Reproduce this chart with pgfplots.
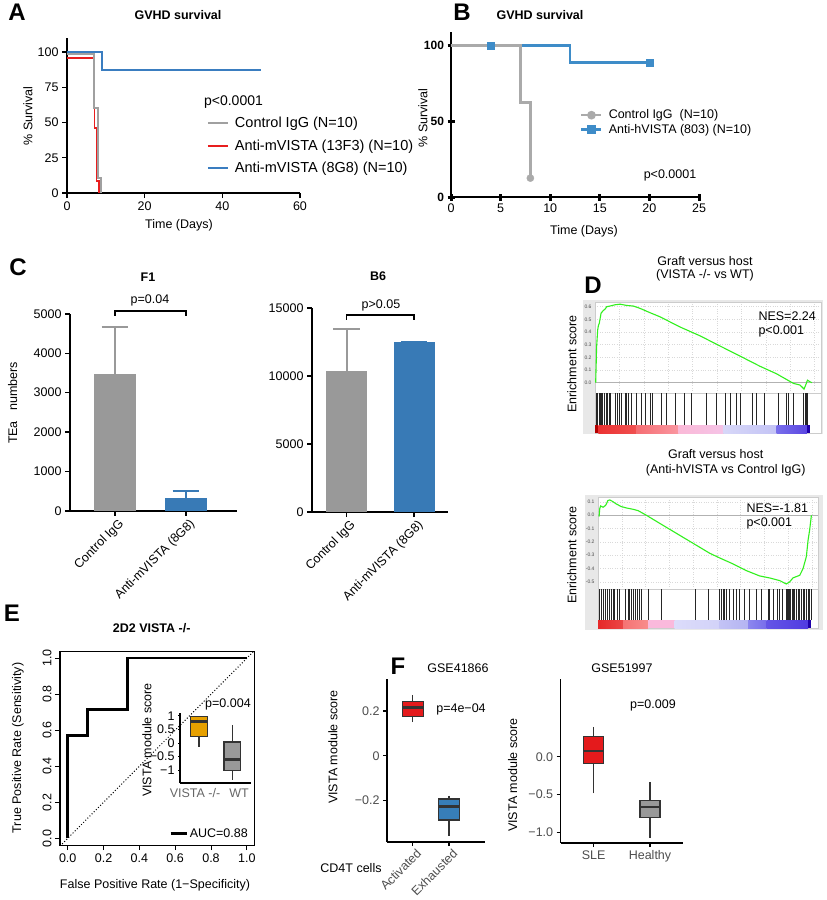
\documentclass[border=0pt]{standalone}
\usepackage{pgfplots}
\pgfplotsset{compat=1.18}
\usepgfplotslibrary{statistics}
\usepackage{fontspec}
\setmainfont{Liberation Sans}
\definecolor{agray}{RGB}{160,160,160}
\definecolor{ared}{RGB}{232,30,30}
\definecolor{ablue}{RGB}{58,125,192}
\definecolor{bgray}{RGB}{170,170,170}
\definecolor{bblue}{RGB}{62,140,200}
\definecolor{cgray}{RGB}{153,153,153}
\definecolor{cblue}{RGB}{56,122,182}
\definecolor{gsgreen}{RGB}{50,240,30}
\definecolor{eorange}{RGB}{230,160,0}
\definecolor{fred}{RGB}{228,26,28}
\definecolor{fblue}{RGB}{55,126,184}
\definecolor{fgray}{RGB}{153,153,153}
\definecolor{ggtext}{RGB}{77,77,77}
\definecolor{boxline}{RGB}{51,51,51}
\definecolor{gsframe}{RGB}{232,232,232}
% colour bars
\definecolor{ta1}{RGB}{180,0,0}
\definecolor{ta2}{RGB}{235,50,50}\definecolor{tb2}{RGB}{240,80,80}
\definecolor{ta3}{RGB}{245,110,115}\definecolor{tb3}{RGB}{250,150,160}
\definecolor{ta4}{RGB}{250,185,215}\definecolor{tb4}{RGB}{245,195,230}
\definecolor{ta5}{RGB}{215,215,248}\definecolor{tb5}{RGB}{195,195,245}
\definecolor{ta6}{RGB}{120,110,235}\definecolor{tb6}{RGB}{90,70,225}
\definecolor{ta7}{RGB}{30,0,170}
\definecolor{ba1}{RGB}{230,40,40}\definecolor{bb1}{RGB}{235,70,70}
\definecolor{ba2}{RGB}{245,115,115}\definecolor{bb2}{RGB}{248,140,140}
\definecolor{ba3}{RGB}{250,185,220}
\definecolor{ba4}{RGB}{220,220,250}\definecolor{bb4}{RGB}{210,210,248}
\definecolor{ba5}{RGB}{195,195,245}\definecolor{bb5}{RGB}{180,180,242}
\definecolor{ba6}{RGB}{140,135,238}\definecolor{bb6}{RGB}{120,110,235}
\definecolor{ba7}{RGB}{100,85,230}\definecolor{bb7}{RGB}{80,60,225}
\definecolor{ba8}{RGB}{30,0,170}
\newcommand{\fs}[1]{\fontsize{#1}{#1}\selectfont}
\pgfplotsset{
  every axis/.append style={scale only axis, anchor=south west, font=\fs{12.5},
     /pgf/number format/assume math mode=true, /pgf/number format/1000 sep={},
     boxplot/draw direction=y, boxplot/whisker extend=0,
     boxplot/every median/.style={line width=2.6pt, draw=boxline}},
  prism/.style={axis lines*=left, axis line style={line width=1.3pt}, tick align=outside,
     major tick length=5pt, tick style={line width=1.3pt, black}},
  gg/.style={axis lines*=left, axis line style={line width=1.3pt}, tick align=outside,
     major tick length=4pt, tick style={line width=1.2pt, black}, ticklabel style={text=ggtext}},
  gsea/.style={xmin=0, xmax=1, axis background/.style={fill=white},
     axis line style={gray!40, line width=0.4pt}},
}
\tikzset{lab/.style={font=\fs{12.5}}, blab/.style={font=\fs{12.5}\bfseries}, letter/.style={font=\fs{24}\bfseries}}
\begin{document}
\begin{tikzpicture}
\path[use as bounding box] (0pt,0pt) rectangle (827pt,-900pt);
% ---------------- panel letters
\node[letter] at (17pt,-12pt) {A};
\node[letter] at (462pt,-12pt) {B};
\node[letter] at (18pt,-267pt) {C};
\node[letter] at (593pt,-285pt) {D};
\node[letter] at (12pt,-613pt) {E};
\node[letter] at (398pt,-666pt) {F};
% ---------------- A
\node[blab] at (178pt,-15pt) {GVHD survival};
\node[lab, rotate=90] at (28pt,-116pt) {\% Survival};
\node[lab] at (179pt,-225.7pt) {Time (Days)};
\node[font=\fs{14}] at (233.5pt,-101.7pt) {p<0.0001};
\begin{axis}[prism, at={(67pt,-193pt)}, width=233pt, height=155pt,
  xmin=0, xmax=60, ymin=0, ymax=110, xtick={0,20,40,60}, ytick={0,25,50,75,100},
  legend style={at={(axis cs:36,55.5)}, anchor=north west, draw=none, fill=none,
     font=\fs{14.5}, row sep=6.5pt, inner sep=0pt},
  legend cell align=left,
  legend image code/.code={\draw[#1] (0pt,0pt) -- (20pt,0pt); \path (24pt,0pt);}]
\addplot[ablue, line width=1.8pt, forget plot] coordinates {(0,100)(9,100)(9,87.5)(50,87.5)};
\addplot[ared, line width=1.8pt, forget plot] coordinates {(0,95.7)(7.1,95.7)(7.1,46)(7.6,46)(7.6,8.5)(8.3,8.5)(8.3,0)};
\addplot[agray, line width=1.8pt, forget plot] coordinates {(0,98.5)(6.9,98.5)(6.9,60.5)(7.9,60.5)(7.9,10.5)(8.8,10.5)(8.8,0)};
\addlegendimage{agray, line width=2pt}
\addlegendentry{Control IgG (N=10)}
\addlegendimage{ared, line width=2pt}
\addlegendentry{Anti-mVISTA (13F3) (N=10)}
\addlegendimage{ablue, line width=2pt}
\addlegendentry{Anti-mVISTA (8G8) (N=10)}
\end{axis}
% ---------------- B
\node[blab] at (540pt,-15pt) {GVHD survival};
\node[lab, rotate=90] at (423pt,-118pt) {\% Survival};
\node[lab] at (584pt,-231pt) {Time (Days)};
\node[lab] at (670pt,-175pt) {p<0.0001};
\begin{axis}[at={(451pt,-197pt)}, width=248pt, height=165pt,
  xmin=0, xmax=25, ymin=0, ymax=109,
  axis lines*=left, axis line style={line width=2pt},
  xtick={0,5,10,15,20,25}, ytick={0,50,100},
  tick align=center, major tick length=7pt, tick style={line width=3pt, black},
  yticklabel style={font=\fs{12}\bfseries}, xticklabel style={font=\fs{12.5}},
  legend style={at={(axis cs:13,59)}, anchor=north west, draw=none, fill=none,
     font=\fs{12.5}, row sep=0pt, inner sep=0pt},
  legend cell align=left,
  legend image code/.code={\draw[#1, mark repeat=2, mark phase=2] plot coordinates {(0pt,0pt)(10pt,0pt)(20pt,0pt)}; \path (24pt,0pt);}]
\addplot[bblue, line width=2.6pt, forget plot] coordinates {(0,100)(12,100)(12,88.9)(20,88.9)};
\addplot[bgray, line width=2.6pt, forget plot] coordinates {(0,100)(7,100)(7,62.5)(8,62.5)(8,12.5)};
\addplot[bgray, only marks, mark=*, mark size=3.6pt, forget plot] coordinates {(8,12.5)};
\addplot[bblue, only marks, mark=square*, mark size=3.6pt, forget plot] coordinates {(4,100)(20,88.9)};
\addlegendimage{bgray, line width=2.6pt, mark=*, mark size=3pt}
\addlegendentry{Control IgG\ \ (N=10)}
\addlegendimage{bblue, line width=2.6pt, mark=square*, mark size=3pt}
\addlegendentry{Anti-hVISTA (803) (N=10)}
\end{axis}
% ---------------- C
\node[blab] at (148pt,-276.7pt) {F1};
\node[blab] at (378pt,-276pt) {B6};
\node[lab, rotate=90] at (12.7pt,-403pt) {TEa\ \ \ numbers};
\node[lab] at (150pt,-300pt) {p=0.04};
\node[lab] at (381pt,-305pt) {p>0.05};
\begin{axis}[prism, at={(70pt,-510.7pt)}, width=167pt, height=196.7pt,
  xmin=0.366, xmax=2.72, ymin=0, ymax=5000, clip=false, scaled y ticks=false,
  axis line style={line width=1.6pt}, tick style={line width=1.6pt, black},
  xtick={1,2}, xticklabels={Control IgG, Anti-mVISTA (8G8)},
  ytick={0,1000,2000,3000,4000,5000},
  xticklabel style={rotate=45, anchor=north east, xshift=4pt}]
\addplot[ybar, bar width=42pt, bar shift=0pt, fill=cgray, draw=none,
  error bars/.cd, y dir=plus, y explicit, error mark=|, error bar style={line width=2pt, cgray},
  error mark options={line width=2pt, cgray, mark size=13.3pt}] coordinates {(1,3475) +- (0,1200)};
\addplot[ybar, bar width=42pt, bar shift=0pt, fill=cblue, draw=none,
  error bars/.cd, y dir=plus, y explicit, error mark=|, error bar style={line width=2pt, cblue},
  error mark options={line width=2pt, cblue, mark size=13.3pt}] coordinates {(2,331) +- (0,170)};
\addplot[black, line width=1.5pt] coordinates {(1,4950)(1,5076)(2,5076)(2,4950)};
\end{axis}
\begin{axis}[prism, at={(312pt,-512pt)}, width=136pt, height=204pt,
  xmin=0.489, xmax=2.5, ymin=0, ymax=15000, clip=false, scaled y ticks=false,
  axis line style={line width=1.6pt}, tick style={line width=1.6pt, black},
  xtick={1,2}, xticklabels={Control IgG, Anti-mVISTA (8G8)},
  ytick={0,5000,10000,15000},
  xticklabel style={rotate=45, anchor=north east, xshift=4pt}]
\addplot[ybar, bar width=41pt, bar shift=0pt, fill=cgray, draw=none,
  error bars/.cd, y dir=plus, y explicit, error mark=|, error bar style={line width=2pt, cgray},
  error mark options={line width=2pt, cgray, mark size=13.3pt}] coordinates {(1,10390) +- (0,3040)};
\addplot[ybar, bar width=41pt, bar shift=0pt, fill=cblue, draw=none,
  error bars/.cd, y dir=plus, y explicit, error mark=|, error bar style={line width=1.5pt, cblue},
  error mark options={line width=1.5pt, cblue, mark size=13.3pt}] coordinates {(2,12470) +- (0,80)};
\addplot[black, line width=1.5pt] coordinates {(1,14120)(1,14485)(2,14485)(2,14120)};
\end{axis}
% ---------------- D top
\node[lab] at (705pt,-261pt) {Graft versus host};
\node[lab] at (705pt,-275pt) {(VISTA -/- vs WT)};
\fill[gsframe] (583pt,-300pt) rectangle (823pt,-434pt);
\node[lab, rotate=90] at (572pt,-364pt) {Enrichment score};
\begin{axis}[gsea, at={(595pt,-393pt)}, width=226pt, height=91pt,
  ymin=-0.081, ymax=0.637,
  xtick={0.108,0.216,0.324,0.432,0.540,0.648,0.756,0.864,0.972}, xticklabels={},
  ytick={0,0.1,0.2,0.3,0.4,0.5,0.6}, yticklabels={0.0,0.1,0.2,0.3,0.4,0.5,0.6},
  yticklabel style={font=\fs{5}, text=black!70},
  major tick length=0pt, grid=major, grid style={gray!30, dotted, line width=0.5pt}]
\addplot[gray!60, line width=0.5pt] coordinates {(0,0)(1,0)};
\addplot[gsgreen, line width=1.1pt] coordinates {(0.003,0)(0.006,0.2)(0.007,0.28)(0.012,0.42)(0.015,0.45)(0.019,0.47)(0.022,0.5)(0.027,0.55)(0.037,0.57)(0.044,0.58)(0.052,0.6)(0.066,0.605)(0.088,0.615)(0.111,0.62)(0.140,0.61)(0.170,0.605)(0.199,0.587)(0.243,0.553)(0.288,0.52)(0.376,0.44)(0.465,0.37)(0.553,0.29)(0.642,0.21)(0.730,0.13)(0.804,0.07)(0.863,0.01)(0.878,-0.005)(0.907,-0.018)(0.925,-0.05)(0.934,-0.01)(0.940,0.02)(0.951,0.008)(0.960,0)};
\end{axis}
\node[lab, anchor=west] at (755pt,-316pt) {NES=2.24};
\node[lab, anchor=west] at (755pt,-331pt) {p<0.001};
\begin{axis}[gsea, at={(595pt,-433pt)}, width=226pt, height=40pt, ymin=-8, ymax=32, ticks=none]
\addplot[draw=none, fill=ta1] coordinates {(0,-8)(0.015,-8)} \closedcycle;
\addplot[draw=none, left color=ta2, right color=tb2] coordinates {(0.015,-8)(0.184,-8)} \closedcycle;
\addplot[draw=none, left color=ta3, right color=tb3] coordinates {(0.184,-8)(0.369,-8)} \closedcycle;
\addplot[draw=none, left color=ta4, right color=tb4] coordinates {(0.369,-8)(0.568,-8)} \closedcycle;
\addplot[draw=none, left color=ta5, right color=tb5] coordinates {(0.568,-8)(0.804,-8)} \closedcycle;
\addplot[draw=none, left color=ta6, right color=tb6] coordinates {(0.804,-8)(0.937,-8)} \closedcycle;
\addplot[draw=none, fill=ta7] coordinates {(0.937,-8)(0.952,-8)} \closedcycle;
\addplot[ycomb, black!85, line width=0.6pt] coordinates {(0.007,32)(0.012,32)(0.018,32)(0.025,32)(0.029,32)(0.034,32)(0.041,32)(0.049,32)(0.056,32)(0.063,32)(0.069,32)(0.088,32)(0.099,32)(0.108,32)(0.118,32)(0.133,32)(0.140,32)(0.147,32)(0.162,32)(0.181,32)(0.206,32)(0.221,32)(0.243,32)(0.255,32)(0.295,32)(0.314,32)(0.354,32)(0.395,32)(0.428,32)(0.494,32)(0.538,32)(0.575,32)(0.597,32)(0.627,32)(0.642,32)(0.698,32)(0.715,32)(0.748,32)(0.811,32)(0.848,32)(0.855,32)(0.878,32)(0.922,32)(0.929,32)(0.934,32)(0.940,32)};
\end{axis}
% ---------------- D bottom
\node[lab] at (715.7pt,-454pt) {Graft versus host};
\node[lab] at (725.7pt,-470pt) {(Anti-hVISTA vs Control IgG)};
\fill[gsframe] (585pt,-495pt) rectangle (823pt,-630pt);
\node[lab, rotate=90] at (572pt,-555pt) {Enrichment score};
\begin{axis}[gsea, at={(598pt,-589pt)}, width=220pt, height=92pt,
  ymin=-0.553, ymax=0.137,
  xtick={0.108,0.216,0.324,0.432,0.540,0.648,0.756,0.864,0.972}, xticklabels={},
  ytick={-0.5,-0.4,-0.3,-0.2,-0.1,0,0.1}, yticklabels={-0.5,-0.4,-0.3,-0.2,-0.1,0.0,0.1},
  yticklabel style={font=\fs{5}, text=black!70},
  major tick length=0pt, grid=major, grid style={gray!30, dotted, line width=0.5pt}]
\addplot[gray!60, line width=0.5pt] coordinates {(0,0)(1,0)};
\addplot[gsgreen, line width=1.1pt] coordinates {(0.005,-0.01)(0.008,0.05)(0.012,0.07)(0.023,0.06)(0.035,0.075)(0.045,0.11)(0.053,0.115)(0.065,0.105)(0.083,0.085)(0.106,0.065)(0.129,0.055)(0.159,0.045)(0.182,0.035)(0.220,0.0)(0.280,-0.06)(0.356,-0.135)(0.432,-0.21)(0.508,-0.285)(0.553,-0.32)(0.614,-0.365)(0.674,-0.415)(0.735,-0.455)(0.780,-0.47)(0.826,-0.49)(0.856,-0.515)(0.871,-0.5)(0.886,-0.47)(0.917,-0.45)(0.932,-0.4)(0.947,-0.31)(0.955,-0.185)(0.962,-0.11)(0.970,0)};
\end{axis}
\node[lab, anchor=west] at (743pt,-508pt) {NES=-1.81};
\node[lab, anchor=west] at (743pt,-523pt) {p<0.001};
\begin{axis}[gsea, at={(598pt,-628pt)}, width=220pt, height=39pt, ymin=-8, ymax=31, ticks=none]
\addplot[draw=none, left color=ba1, right color=bb1] coordinates {(0,-8)(0.114,-8)} \closedcycle;
\addplot[draw=none, left color=ba2, right color=bb2] coordinates {(0.114,-8)(0.227,-8)} \closedcycle;
\addplot[draw=none, fill=ba3] coordinates {(0.227,-8)(0.348,-8)} \closedcycle;
\addplot[draw=none, left color=ba4, right color=bb4] coordinates {(0.348,-8)(0.553,-8)} \closedcycle;
\addplot[draw=none, left color=ba5, right color=bb5] coordinates {(0.553,-8)(0.682,-8)} \closedcycle;
\addplot[draw=none, left color=ba6, right color=bb6] coordinates {(0.682,-8)(0.765,-8)} \closedcycle;
\addplot[draw=none, left color=ba7, right color=bb7] coordinates {(0.765,-8)(0.955,-8)} \closedcycle;
\addplot[draw=none, fill=ba8] coordinates {(0.955,-8)(0.970,-8)} \closedcycle;
\addplot[ycomb, black!85, line width=0.6pt] coordinates {(0.008,31)(0.015,31)(0.023,31)(0.033,31)(0.041,31)(0.050,31)(0.061,31)(0.068,31)(0.076,31)(0.086,31)(0.098,31)(0.124,31)(0.136,31)(0.144,31)(0.152,31)(0.162,31)(0.171,31)(0.177,31)(0.189,31)(0.197,31)(0.227,31)(0.288,31)(0.444,31)(0.500,31)(0.553,31)(0.561,31)(0.568,31)(0.576,31)(0.583,31)(0.598,31)(0.614,31)(0.629,31)(0.644,31)(0.667,31)(0.686,31)(0.720,31)(0.742,31)(0.773,31)(0.780,31)(0.795,31)(0.814,31)(0.826,31)(0.838,31)(0.856,31)(0.861,31)(0.865,31)(0.871,31)(0.876,31)(0.882,31)(0.886,31)(0.894,31)(0.902,31)(0.909,31)(0.917,31)(0.924,31)(0.932,31)(0.939,31)(0.947,31)(0.955,31)(0.962,31)(0.970,31)};
\end{axis}
% ---------------- E
\node[blab] at (151.7pt,-628.3pt) {2D2 VISTA -/-};
\node[lab, rotate=90] at (18pt,-748pt) {True Positive Rate (Sensitivity)};
\node[lab] at (155pt,-885pt) {False Positive Rate (1−Specificity)};
\begin{axis}[at={(60pt,-845pt)}, width=194pt, height=194pt,
  xmin=-0.043, xmax=1.04, ymin=-0.037, ymax=1.04,
  axis line style={line width=1pt}, tick pos=left, tick align=outside,
  major tick length=5pt, tick style={line width=1pt, black},
  xtick={0,0.2,0.4,0.6,0.8,1}, xticklabels={0.0,0.2,0.4,0.6,0.8,1.0},
  ytick={0,0.2,0.4,0.6,0.8,1}, yticklabels={0.0,0.2,0.4,0.6,0.8,1.0},
  yticklabel style={rotate=90, anchor=south},
  legend style={at={(rel axis cs:1,0)}, anchor=south east, xshift=-3pt, yshift=3pt,
     draw=none, fill=none, font=\fs{12.5}, inner sep=1pt},
  legend image code/.code={\draw[#1] (0pt,0pt) -- (16pt,0pt);}]
\addplot[black, dotted, line width=1pt, forget plot] coordinates {(-0.043,-0.043)(1.04,1.04)};
\addplot[black, line width=2.5pt] coordinates {(0,0)(0,0.571)(0.111,0.571)(0.111,0.714)(0.333,0.714)(0.333,1)(1,1)};
\addlegendentry{AUC=0.88}
\end{axis}
\node[lab, rotate=90] at (147pt,-740pt) {VISTA module score};
\node[lab] at (228pt,-704pt) {p=0.004};
\begin{axis}[at={(180pt,-783pt)}, width=70.7pt, height=70.3pt,
  xmin=0.43, xmax=2.55, ymin=-1.47, ymax=1.12,
  axis lines*=left, axis line style={line width=1.5pt},
  ytick={-1,-0.5,0,0.5,1}, yticklabels={−1,−0.5,0,0.5,1},
  xtick={0.88,2.2}, xticklabels={VISTA -/-, WT}, xticklabel style={text=black!60},
  tick align=outside, major tick length=2pt, xtick style={draw=none}, ytick style={line width=1pt, black}]
\addplot[draw=boxline, fill=eorange, line width=1.2pt, boxplot prepared={draw position=1,
  lower whisker=-0.125, lower quartile=0.24, median=0.79, upper quartile=0.98, upper whisker=1.0,
  box extend=0.53}] coordinates {};
\addplot[draw=boxline, fill=fgray, line width=1.2pt, boxplot prepared={draw position=2,
  lower whisker=-1.35, lower quartile=-1.02, median=-0.61, upper quartile=0.04, upper whisker=0.67,
  box extend=0.5}] coordinates {};
\end{axis}
% ---------------- F left
\node[lab] at (458pt,-668pt) {GSE41866};
\node[lab, rotate=90] at (333pt,-747pt) {VISTA module score};
\node[lab] at (351pt,-868pt) {CD4T cells};
\node[lab] at (461pt,-709pt) {p=4e−04};
\begin{axis}[gg, at={(387pt,-842pt)}, width=98pt, height=163pt,
  xmin=0.29, xmax=2.99, ymin=-0.386, ymax=0.343,
  ytick={-0.2,0,0.2}, yticklabels={−0.2,0,0.2},
  xtick={1,2}, xticklabels={Activated, Exhausted},
  xticklabel style={rotate=45, anchor=north east, xshift=4pt}]
\addplot[draw=boxline, fill=fred, line width=1.2pt, boxplot prepared={draw position=1,
  lower whisker=0.15, lower quartile=0.175, median=0.215, upper quartile=0.242, upper whisker=0.272,
  box extend=0.57}] coordinates {};
\addplot[draw=boxline, fill=fblue, line width=1.2pt, boxplot prepared={draw position=2,
  lower whisker=-0.358, lower quartile=-0.288, median=-0.228, upper quartile=-0.194, upper whisker=-0.179,
  box extend=0.57}] coordinates {};
\end{axis}
% ---------------- F right
\node[lab] at (622pt,-668pt) {GSE51997};
\node[lab, rotate=90] at (512.7pt,-775pt) {VISTA module score};
\node[lab] at (653pt,-705pt) {p=0.009};
\begin{axis}[gg, at={(560.7pt,-843pt)}, width=122.3pt, height=164pt,
  xmin=0.414, xmax=2.586, ymin=-1.14, ymax=1.03,
  ytick={-1,-0.5,0}, yticklabels={−1.0,−0.5,0.0},
  xtick={1,2}, xticklabels={SLE, Healthy}]
\addplot[draw=boxline, fill=fred, line width=1.2pt, boxplot prepared={draw position=1,
  lower whisker=-0.484, lower quartile=-0.093, median=0.075, upper quartile=0.265, upper whisker=0.397,
  box extend=0.355}] coordinates {};
\addplot[draw=boxline, fill=fgray, line width=1.2pt, boxplot prepared={draw position=2,
  lower whisker=-1.08, lower quartile=-0.8, median=-0.665, upper quartile=-0.578, upper whisker=-0.33,
  box extend=0.355}] coordinates {};
\end{axis}
\end{tikzpicture}
\end{document}
